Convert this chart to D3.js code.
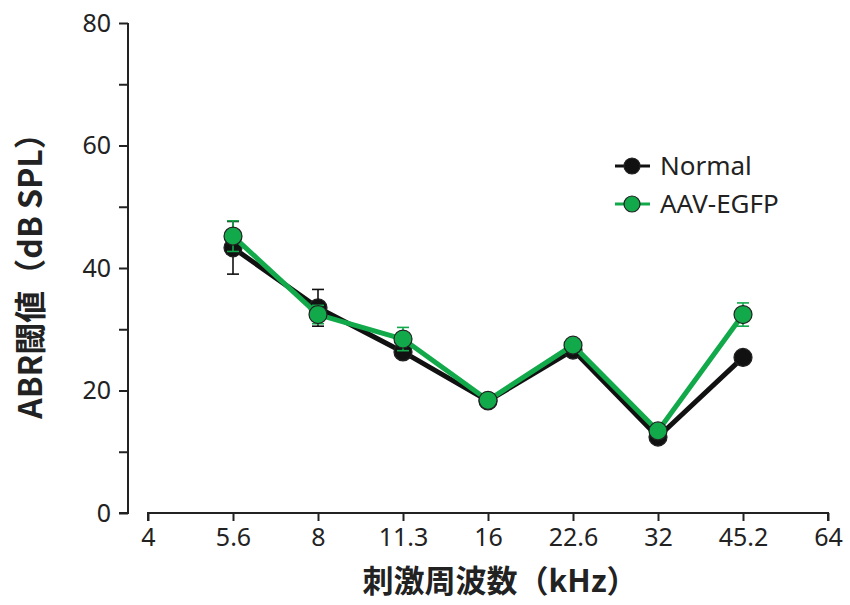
<!DOCTYPE html>
<html>
<head>
<meta charset="utf-8">
<script src="https://cdn.jsdelivr.net/npm/d3@7"></script>
<style>
  body { margin: 0; background: #fff; }
  .tick text { font-family: "Noto Sans", "Open Sans", sans-serif; }
</style>
</head>
<body>
<div id="chart"></div>
<script>
// x categories (log2 spaced kHz)
const freqTicks = ["4", "5.6", "8", "11.3", "16", "22.6", "32", "45.2", "64"];
const freqs = ["5.6", "8", "11.3", "16", "22.6", "32", "45.2"];
const normalMean = [43.3, 33.5, 26.3, 18.3, 26.6, 12.4, 25.4];
const normalSem = [4.3, 3.0, 0.6, 0.5, 0.5, 0.6, 0.6];
const egfpMean = [45.2, 32.4, 28.4, 18.4, 27.4, 13.4, 32.4];
const egfpSem = [2.5, 1.5, 1.9, 0.5, 0.6, 0.6, 1.9];
const yTicks = [0, 10, 20, 30, 40, 50, 60, 70, 80];
const seriesNames = ["Normal", "AAV-EGFP"];

function draw() {
  const width = 850, height = 605;
  const green = "#12a94b";

  const svg = d3.select('#chart').append('svg')
    .attr('width', width)
    .attr('height', height);

  let xScale = d3.scalePoint()
    .domain(freqTicks)
    .range([148, 828]);
  let yScale = d3.scaleLinear()
    .domain([0, 80])
    .range([513, 23]);

  // y axis
  const yAxis = d3.axisLeft(yScale)
    .tickValues(yTicks)
    .tickSize(9)
    .tickPadding(8)
    .tickFormat(d => d % 20 === 0 ? d : "");
  const yAxisGroup = svg.append('g')
    .attr('transform', 'translate(128,0)')
    .call(yAxis);
  yAxisGroup.select('.domain').attr('d', 'M0,' + yScale(80) + 'V' + yScale(0) + 'H-9')
    .attr('stroke', '#222').attr('stroke-width', 2);
  yAxisGroup.selectAll('.tick line').attr('stroke', '#222').attr('stroke-width', 2);
  yAxisGroup.selectAll('.tick text').attr('font-size', 25).attr('fill', '#222');

  // x axis (offset from y axis)
  const xAxis = d3.axisBottom(xScale)
    .tickSize(8)
    .tickSizeOuter(0)
    .tickPadding(7);
  const xAxisGroup = svg.append('g')
    .attr('transform', 'translate(0,513)')
    .call(xAxis);
  xAxisGroup.select('.domain').attr('d', 'M' + xScale("4") + ',8V0H' + xScale("64") + 'V8')
    .attr('stroke', '#222').attr('stroke-width', 2);
  xAxisGroup.selectAll('.tick line').attr('y1', 0).attr('y2', 8)
    .attr('stroke', '#222').attr('stroke-width', 2);
  xAxisGroup.selectAll('.tick text').attr('font-size', 25).attr('fill', '#222');

  // axis titles
  svg.append('text')
    .attr('transform', 'translate(42,268) rotate(-90)')
    .attr('text-anchor', 'middle')
    .attr('font-family', '"Noto Sans CJK JP", sans-serif')
    .attr('font-weight', 'bold')
    .attr('font-size', 32)
    .attr('fill', '#222')
    .text('ABR閾値（dB SPL）');
  svg.append('text')
    .attr('x', 500)
    .attr('y', 592)
    .attr('text-anchor', 'middle')
    .attr('font-family', '"Noto Sans CJK JP", sans-serif')
    .attr('font-weight', 'bold')
    .attr('font-size', 31)
    .attr('fill', '#222')
    .text('刺激周波数（kHz）');

  const groups = [
    { name: seriesNames[0], mean: normalMean, sem: normalSem, color: '#111', bar: '#111' },
    { name: seriesNames[1], mean: egfpMean, sem: egfpSem, color: green, bar: green }
  ];

  const line = d3.line()
    .x(d => xScale(d.f))
    .y(d => yScale(d.v));

  groups.forEach(g => {
    const pts = freqs.map((f, i) => ({ f: f, v: g.mean[i], e: g.sem[i] }));
    const gg = svg.append('g');
    // error bars
    const eb = gg.selectAll('.err').data(pts).enter().append('g')
      .attr('stroke', g.bar).attr('stroke-width', 1.6);
    eb.append('line')
      .attr('x1', d => xScale(d.f)).attr('x2', d => xScale(d.f))
      .attr('y1', d => yScale(d.v - d.e)).attr('y2', d => yScale(d.v + d.e));
    eb.append('line')
      .attr('x1', d => xScale(d.f) - 6).attr('x2', d => xScale(d.f) + 6)
      .attr('y1', d => yScale(d.v + d.e)).attr('y2', d => yScale(d.v + d.e));
    eb.append('line')
      .attr('x1', d => xScale(d.f) - 6).attr('x2', d => xScale(d.f) + 6)
      .attr('y1', d => yScale(d.v - d.e)).attr('y2', d => yScale(d.v - d.e));
    gg.append('path')
      .datum(pts)
      .attr('d', line)
      .attr('fill', 'none')
      .attr('stroke', g.color)
      .attr('stroke-width', 5)
      .attr('stroke-linejoin', 'round');
    gg.selectAll('circle').data(pts).enter().append('circle')
      .attr('cx', d => xScale(d.f))
      .attr('cy', d => yScale(d.v))
      .attr('r', 9)
      .attr('fill', g.color)
      .attr('stroke', '#222')
      .attr('stroke-width', 1.2);
  });

  // legend
  const legend = svg.append('g').attr('transform', 'translate(615,166)');
  groups.forEach((g, i) => {
    const row = legend.append('g').attr('transform', 'translate(0,' + (i * 38) + ')');
    row.append('line')
      .attr('x1', 0).attr('x2', 35)
      .attr('stroke', g.color).attr('stroke-width', 3);
    row.append('circle')
      .attr('cx', 17).attr('r', 8)
      .attr('fill', g.color).attr('stroke', '#222').attr('stroke-width', 1.2);
    row.append('text')
      .attr('x', 45).attr('dy', '0.35em')
      .attr('font-family', '"Noto Sans", sans-serif')
      .attr('font-size', 26)
      .attr('fill', '#222')
      .text(g.name);
  });
}
draw();
</script>
</body>
</html>
